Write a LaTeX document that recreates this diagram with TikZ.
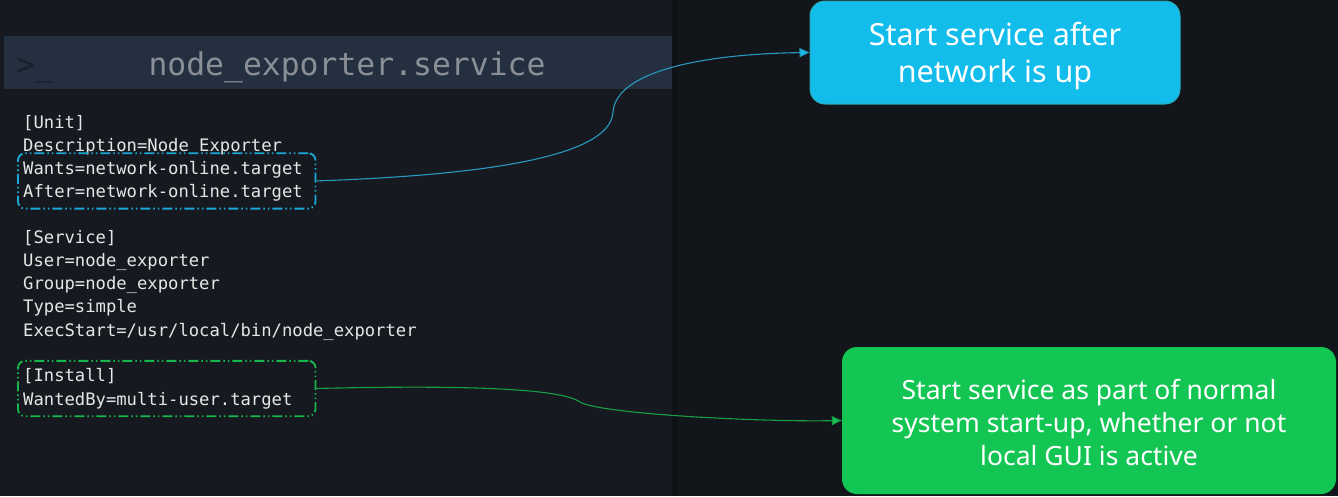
\documentclass[tikz,border=0pt]{standalone}
\usepackage{fontspec}
\usepackage{tikz}
\usetikzlibrary{arrows.meta, positioning, fit, calc}
\setmainfont{Noto Sans}
\newfontfamily\codefont{DejaVu Sans Mono}
\definecolor{bgdark}{HTML}{121519}
\definecolor{panelbg}{HTML}{161A20}
\definecolor{panelshade}{HTML}{0F1216}
\definecolor{titlebg}{HTML}{243040}
\definecolor{titletext}{HTML}{8A8F96}
\definecolor{prompttext}{HTML}{17212D}
\definecolor{codetext}{HTML}{E6E6E6}
\definecolor{boxcyan}{HTML}{1AA8D8}
\definecolor{boxgreen}{HTML}{16B84C}
\definecolor{linecyan}{HTML}{2A98C0}
\definecolor{linegreen}{HTML}{1A9E45}
\definecolor{cyanfill}{HTML}{12BDEB}
\definecolor{cyanedge}{HTML}{2AA9B8}
\definecolor{greenfill}{HTML}{13C553}
\tikzstyle{codeline} = [anchor=north west, inner sep=0pt, text height=16.4pt, text depth=6.35pt, text=codetext, font=\codefont\fontsize{17.2pt}{22.75pt}\selectfont]
\tikzstyle{hlbox} = [rectangle, inner sep=0pt, outer sep=0pt, line width=1.8pt, rounded corners=7pt, dash pattern=on 10pt off 3pt on 1.5pt off 3pt on 1.5pt off 3pt]
\tikzstyle{infobox} = [rectangle, rounded corners=15pt, text=white, align=center, inner sep=0pt, text depth=0pt]
\tikzstyle{infocyan} = [infobox, minimum width=370pt, minimum height=103pt, fill=cyanfill, draw=cyanedge, line width=1pt, text height=60pt, font=\fontsize{30.5pt}{37pt}\selectfont]
\tikzstyle{infogreen} = [infobox, minimum width=494pt, minimum height=147pt, fill=greenfill, text height=90pt, font=\fontsize{26.5pt}{33pt}\selectfont]
\tikzstyle{link} = [line width=1.1pt]

\begin{document}
\begin{tikzpicture}[x=1pt, y=-1pt]
% background and code panel
\fill[bgdark] (0,0) rectangle (1338,496);
\fill[panelbg] (0,0) rectangle (672,496);
\fill[panelshade] (672,0) rectangle (678,496);
\node (titlebar) [rectangle, fill=titlebg, minimum width=668pt, minimum height=53pt, inner sep=0pt, anchor=north west] at (4,36) {};
\node (prompt) [anchor=base west, inner sep=0pt, text=prompttext, font=\codefont\fontsize{31.4pt}{36pt}\selectfont] at (16,75) {>\_};
\node (title) [anchor=base, inner sep=0pt, text=titletext, font=\codefont\fontsize{31.4pt}{36pt}\selectfont] at (347,75) {node\_exporter.service};

% [Unit]
\node (unit) [codeline] at (23,111.5) {[Unit]};
\node (desc) [codeline, below=0pt of unit.south west, anchor=north west] {Description=Node Exporter};
\node (wants) [codeline, below=0pt of desc.south west, anchor=north west] {Wants=network-online.target};
\node (after) [codeline, below=0pt of wants.south west, anchor=north west] {After=network-online.target};
% [Service]
\node (service) [codeline, below=22.75pt of after.south west, anchor=north west] {[Service]};
\node (user) [codeline, below=0pt of service.south west, anchor=north west] {User=node\_exporter};
\node (group) [codeline, below=0pt of user.south west, anchor=north west] {Group=node\_exporter};
\node (type) [codeline, below=0pt of group.south west, anchor=north west] {Type=simple};
\node (exec) [codeline, below=0pt of type.south west, anchor=north west] {ExecStart=/usr/local/bin/node\_exporter};
% [Install]
\node (install) [codeline, below=22.75pt of exec.south west, anchor=north west] {[Install]};
\node (wantedby) [codeline, below=0pt of install.south west, anchor=north west] {WantedBy=multi-user.target};

% highlight boxes
\node (unitbox) [hlbox, draw=boxcyan, fit={($(wants.north west)+(-5,-4.5)$) ($(after.south east)+(12.5,4.5)$)}] {};
\coordinate (installcorner) at (unitbox.east |- wantedby.south);
\node (installbox) [hlbox, draw=boxgreen, fit={($(install.north west)+(-5,-4.5)$) ($(installcorner)+(0,4.5)$)}] {};

% notes
\node (startnet) [infocyan] at (995,52.5) {Start service after\\network is up};
\node (startboot) [infogreen] at (1089,420.5) {Start service as part of normal\\system start-up, whether or not\\local GUI is active};

\coordinate (bluebend) at (613,112);
\coordinate (greenbend) at (580,402);
\draw [link, draw=linecyan, -{Triangle[length=10pt, width=9pt, fill=cyanfill]}] (unitbox.east) .. controls (520,174) and (611,150) .. (bluebend) .. controls (616,72) and (700,54) .. (startnet.west);
\draw [link, draw=linegreen, -{Triangle[length=10pt, width=9pt, fill=greenfill]}] (installbox.east) .. controls (460,385) and (560,388) .. (greenbend) .. controls (600,414) and (760,422) .. (startboot.west);
\end{tikzpicture}
\end{document}
